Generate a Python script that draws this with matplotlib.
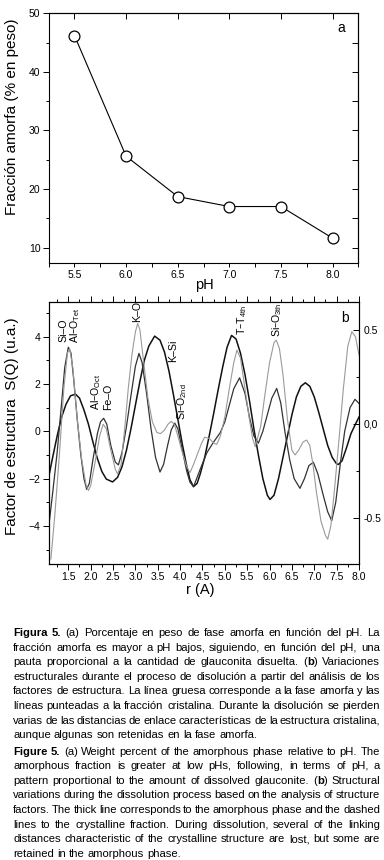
import matplotlib
matplotlib.use('Agg')
import matplotlib.pyplot as plt
from matplotlib import font_manager
from matplotlib.ticker import MultipleLocator

# panel a
ph = [5.5, 6.0, 6.5, 7.0, 7.5, 8.0]
amorphous_pct = [46.2, 25.6, 18.7, 17.0, 17.0, 11.6]

# panel b: structure factors
r_amorph = [1.07, 1.15, 1.25, 1.35, 1.45, 1.55, 1.66, 1.75, 1.85, 1.95, 2.05,
            2.15, 2.25, 2.35, 2.49, 2.6, 2.7, 2.8, 2.9, 3.0, 3.1, 3.2, 3.3,
            3.43, 3.55, 3.65, 3.75, 3.85, 3.95, 4.05, 4.15, 4.22, 4.3, 4.38,
            4.45, 4.55, 4.65, 4.75, 4.85, 4.95, 5.05, 5.15, 5.25, 5.35, 5.45,
            5.55, 5.65, 5.75, 5.85, 5.95, 6.01, 6.1, 6.2, 6.3, 6.4, 6.5, 6.6,
            6.7, 6.8, 6.9, 7.0, 7.1, 7.2, 7.3, 7.4, 7.5, 7.54, 7.62, 7.72,
            7.82, 7.92, 8.0]
s_amorph = [-1.85, -1.1, -0.2, 0.6, 1.15, 1.5, 1.57, 1.4, 0.9, 0.3, -0.45,
            -1.15, -1.7, -2.02, -2.14, -1.95, -1.5, -0.8, 0.1, 1.1, 2.1, 3.0,
            3.6, 4.02, 3.85, 3.35, 2.55, 1.55, 0.5, -0.55, -1.5, -2.05, -2.34,
            -2.2, -1.8, -1.1, -0.2, 0.75, 1.75, 2.7, 3.55, 4.05, 3.9, 3.3, 2.4,
            1.3, 0.1, -1.0, -2.0, -2.7, -2.88, -2.7, -2.0, -1.1, -0.2, 0.7,
            1.45, 1.9, 2.05, 1.9, 1.45, 0.8, 0.1, -0.6, -1.1, -1.38, -1.4,
            -1.25, -0.7, -0.1, 0.3, 0.6]

r_cryst1 = [1.07, 1.15, 1.25, 1.35, 1.42, 1.5, 1.56, 1.62, 1.7, 1.78, 1.85,
            1.91, 1.97, 2.05, 2.15, 2.22, 2.29, 2.36, 2.45, 2.55, 2.62, 2.7,
            2.8, 2.9, 3.0, 3.08, 3.15, 3.25, 3.35, 3.45, 3.55, 3.63, 3.72,
            3.8, 3.88, 3.95, 4.05, 4.15, 4.22, 4.3, 4.45, 4.6, 4.75, 4.9, 5.0,
            5.1, 5.2, 5.33, 5.45, 5.55, 5.65, 5.75, 5.85, 5.95, 6.05, 6.16,
            6.25, 6.35, 6.45, 6.55, 6.68, 6.78, 6.88, 6.98, 7.08, 7.2, 7.3,
            7.39, 7.48, 7.58, 7.68, 7.8, 7.91, 8.0]
s_cryst1 = [-3.9, -2.6, -0.9, 1.2, 2.7, 3.55, 3.3, 2.2, 0.5, -1.0, -2.0,
            -2.45, -2.2, -1.2, -0.1, 0.4, 0.55, 0.3, -0.6, -1.3, -1.42, -0.9,
            0.2, 1.5, 2.75, 3.29, 2.9, 1.6, 0.1, -1.1, -1.72, -1.4, -0.6, 0.05,
            0.35, 0.1, -0.8, -1.7, -2.15, -2.34, -1.6, -0.9, -0.45, -0.05, 0.4,
            1.1, 1.8, 2.26, 1.6, 0.6, -0.2, -0.5, 0.0, 0.7, 1.4, 1.81, 1.2,
            -0.1, -1.2, -2.0, -2.41, -2.0, -1.45, -1.31, -1.8, -2.7, -3.4,
            -3.78, -3.0, -1.4, 0.0, 1.0, 1.35, 1.18]

r_cryst2 = [1.11, 1.2, 1.3, 1.4, 1.48, 1.53, 1.6, 1.7, 1.8, 1.9, 1.95, 2.0,
            2.1, 2.2, 2.28, 2.35, 2.45, 2.55, 2.6, 2.68, 2.76, 2.84, 2.92,
            3.0, 3.05, 3.1, 3.18, 3.28, 3.38, 3.48, 3.56, 3.65, 3.73, 3.8,
            3.87, 3.95, 4.05, 4.15, 4.22, 4.3, 4.4, 4.48, 4.55, 4.65, 4.75,
            4.82, 4.9, 5.0, 5.1, 5.2, 5.27, 5.35, 5.45, 5.55, 5.62, 5.68, 5.8,
            5.9, 6.0, 6.1, 6.15, 6.22, 6.3, 6.4, 6.5, 6.57, 6.65, 6.75, 6.83,
            6.9, 6.97, 7.05, 7.15, 7.25, 7.3, 7.37, 7.45, 7.55, 7.65, 7.75,
            7.84, 7.92, 8.0]
s_cryst2 = [-5.4, -3.5, -1.0, 1.8, 3.3, 3.5, 2.7, 0.5, -1.2, -2.3, -2.5,
            -2.3, -1.3, -0.2, 0.3, 0.1, -0.8, -1.6, -1.8, -1.4, 0.1, 1.8, 3.2,
            4.2, 4.55, 4.3, 3.0, 1.4, 0.4, -0.05, -0.1, 0.05, 0.3, 0.42, 0.3,
            -0.2, -0.9, -1.5, -1.75, -1.4, -0.9, -0.5, -0.25, -0.3, -0.5,
            -0.55, -0.2, 0.6, 1.8, 2.9, 3.43, 3.1, 1.8, 0.5, -0.3, -0.65, 0.2,
            1.6, 2.9, 3.75, 3.85, 3.5, 2.4, 0.5, -0.8, -1.0, -0.8, -0.45,
            -0.37, -0.6, -1.4, -2.6, -3.8, -4.4, -4.56, -4.0, -2.5, -0.4, 1.8,
            3.6, 4.21, 4.0, 3.22]

peak_labels = ['Si–O', 'Al–O$_{\\mathregular{Tet}}$', 'K–O',
               'Al–O$_{\\mathregular{Oct}}$', 'Fe–O', 'K–Si',
               'Si–O$_{\\mathregular{2nd}}$', 'T–T$_{\\mathregular{4th}}$',
               'Si–O$_{\\mathregular{3th}}$']
peak_r = [1.39, 1.65, 3.03, 2.12, 2.40, 3.84, 4.04, 5.38, 6.16]
peak_s = [3.77, 3.73, 4.62, 0.9, 0.9, 2.93, 0.48, 4.07, 3.98]

caption_es = [
    "**Figura 5.** (a) Porcentaje en peso de fase amorfa en función del pH. La",
    "fracción amorfa es mayor a pH bajos, siguiendo, en función del pH, una",
    "pauta proporcional a la cantidad de glauconita disuelta. (**b**) Variaciones",
    "estructurales durante el proceso de disolución a partir del análisis de los",
    "factores de estructura. La línea gruesa corresponde a la fase amorfa y las",
    "líneas punteadas a la fracción cristalina. Durante la disolución se pierden",
    "varias de las distancias de enlace características de la estructura cristalina,",
    "aunque algunas son retenidas en la fase amorfa.",
]
caption_en = [
    "**Figure 5.** (a) Weight percent of the amorphous phase relative to pH. The",
    "amorphous fraction is greater at low pHs, following, in terms of pH, a",
    "pattern proportional to the amount of dissolved glauconite. (**b**) Structural",
    "variations during the dissolution process based on the analysis of structure",
    "factors. The thick line corresponds to the amorphous phase and the dashed",
    "lines to the crystalline fraction. During dissolution, several of the linking",
    "distances characteristic of the crystalline structure are lost, but some are",
    "retained in the amorphous phase.",
]


def pick_font():
    for name in ['Liberation Sans Narrow', 'Liberation Sans', 'DejaVu Sans']:
        try:
            font_manager.findfont(font_manager.FontProperties(family=name),
                                  fallback_to_default=False)
            return name
        except ValueError:
            pass
    return 'DejaVu Sans'


FONT = pick_font()
plt.rcParams['font.family'] = [FONT, 'DejaVu Sans']
plt.rcParams['mathtext.default'] = 'regular'


def parse_words(line, bold):
    words = []
    for w in line.split(' '):
        segs = []
        for k, part in enumerate(w.split('**')):
            if k > 0:
                bold = not bold
            if part:
                segs.append((part, bold))
        words.append(segs)
    return words, bold


def draw_caption(fig, lines, first_base, step, left, right, size):
    # justified paragraph, one text object per word piece
    renderer = fig.canvas.get_renderer()
    W, H = fig.bbox.width, fig.bbox.height
    bold = False
    sp = fig.text(0, 0, 'a a', fontsize=size)
    sp2 = fig.text(0, 0, 'aa', fontsize=size)
    space = (sp.get_window_extent(renderer).width
             - sp2.get_window_extent(renderer).width)
    sp.remove()
    sp2.remove()
    for i, line in enumerate(lines):
        words, bold = parse_words(line, bold)
        placed = []
        widths = []
        for segs in words:
            ws = []
            for txt, b in segs:
                t = fig.text(0, 0, txt, fontsize=size,
                             fontweight='bold' if b else 'normal',
                             va='baseline', ha='left')
                ws.append(t.get_window_extent(renderer).width)
                placed.append(t)
            widths.append(ws)
        total = sum(sum(ws) for ws in widths)
        if i == len(lines) - 1 or len(words) < 2:
            gap = space
        else:
            gap = (right - left - total) / (len(words) - 1)
        x = left
        y = first_base + i * step
        k = 0
        for ws in widths:
            for wseg in ws:
                placed[k].set_position((x / W, 1 - y / H))
                x += wseg
                k += 1
            x += gap


def main():
    fig = plt.figure(figsize=(3.84, 8.6), dpi=100)

    # ---- panel a
    ax = fig.add_axes([0.1268, 0.6945, 0.8063, 0.29])
    ax.plot(ph, amorphous_pct, color='black', lw=0.8, marker='o', ms=7.8,
            mfc='white', mec='black', mew=0.9)
    ax.set_xlim(5.25, 8.25)
    ax.set_ylim(7.4, 50)
    ax.xaxis.set_major_locator(MultipleLocator(0.5))
    ax.xaxis.set_minor_locator(MultipleLocator(0.25))
    ax.yaxis.set_major_locator(MultipleLocator(10))
    ax.yaxis.set_minor_locator(MultipleLocator(5))
    ax.xaxis.set_major_formatter(lambda v, p: f'{v:.1f}')
    ax.tick_params(which='both', direction='out', labelsize=7.5, width=0.7,
                   pad=2)
    ax.tick_params(which='major', length=4)
    ax.tick_params(which='minor', length=2.5)
    ax.tick_params(axis='x', which='both', length=3)
    ax.text(0.946, 0.942, 'a', transform=ax.transAxes, fontsize=10,
            ha='center', va='center')
    for s in ax.spines.values():
        s.set_linewidth(0.8)
    # inward ticks on the top and right frame
    tx = ax.secondary_xaxis('top')
    tx.set_xticks(ph)
    tx.tick_params(direction='in', length=4, width=0.7, labeltop=False)
    ty = ax.secondary_yaxis('right')
    ty.yaxis.set_major_locator(MultipleLocator(5))
    ty.tick_params(direction='in', length=4, width=0.7, labelright=False)

    fig.text(11.7 / 384, 1 - 117 / 860, 'Fracción amorfa (% en peso)',
             rotation=90, ha='center', va='center', fontsize=11)
    fig.text(204 / 384, 1 - 285 / 860, 'pH', ha='center', va='center',
             fontsize=10.5)

    # ---- panel b
    bx = fig.add_axes([0.1276, 0.3442, 0.8073, 0.305])
    bx.plot(r_amorph, s_amorph, color='#111111', lw=1.1)
    bx.plot(r_cryst1, s_cryst1, color='#333333', lw=0.9)
    bx.plot(r_cryst2, s_cryst2, color='#9a9a9a', lw=0.8)
    bx.set_xlim(1.068, 8.0)
    bx.set_ylim(-5.606, 5.475)
    bx.xaxis.set_major_locator(MultipleLocator(0.5))
    bx.xaxis.set_minor_locator(MultipleLocator(0.25))
    bx.yaxis.set_major_locator(MultipleLocator(2))
    bx.yaxis.set_minor_locator(MultipleLocator(1))
    bx.xaxis.set_major_formatter(lambda v, p: f'{v:.1f}')
    bx.tick_params(which='both', direction='out', labelsize=7.5, width=0.7,
                   pad=2, top=True)
    bx.tick_params(which='major', length=4)
    bx.tick_params(which='minor', length=2.5)
    for s in bx.spines.values():
        s.set_linewidth(0.8)

    rx = bx.twinx()
    rx.set_ylim(-0.7475, 0.650)
    rx.yaxis.set_major_locator(MultipleLocator(0.5))
    rx.yaxis.set_minor_locator(MultipleLocator(0.25))
    rx.yaxis.set_major_formatter(
        lambda v, p: '0,0' if abs(v) < 1e-9 else f'{v:.1f}')
    rx.tick_params(which='both', direction='in', labelsize=7.5, width=0.7,
                   pad=3)
    rx.tick_params(which='major', length=4)
    rx.tick_params(which='minor', length=2.5)

    for lab, xr, ys in zip(peak_labels, peak_r, peak_s):
        bx.text(xr, ys, lab, rotation=90, ha='center', va='bottom',
                fontsize=7.6)
    bx.text(0.955, 0.938, 'b', transform=bx.transAxes, fontsize=10,
            ha='center', va='center')

    fig.text(12 / 384, 1 - 426 / 860, 'Factor de estructura  S(Q) (u.a.)',
             rotation=90, ha='center', va='center', fontsize=11)
    fig.text(200 / 384, 1 - 590 / 860, 'r (A)', ha='center', va='center',
             fontsize=10.5)

    # ---- caption
    fig.canvas.draw()
    draw_caption(fig, caption_es, 636, 14.6, 13, 380, 8.1)
    draw_caption(fig, caption_en, 754.7, 14.6, 13, 380, 8.1)

    fig.savefig('out.png', dpi=100)


if __name__ == '__main__':
    main()
